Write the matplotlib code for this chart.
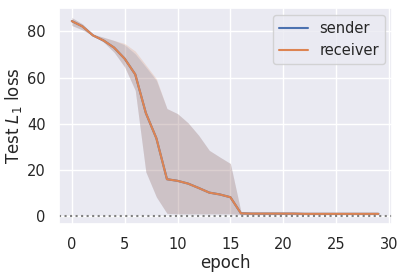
import matplotlib
matplotlib.use("Agg")
import matplotlib.pyplot as plt
import seaborn as sns
import numpy as np

epochs = list(range(30))
mean = [84.5, 82.2, 78.3, 76.1, 73.0, 68.2, 61.4, 44.7, 33.7, 16.0, 15.3, 14.1, 12.2, 10.2, 9.4, 8.2,
        1.2, 1.1, 1.1, 1.1, 1.1, 1.1, 1.0, 1.0, 1.0, 1.0, 1.0, 1.0, 1.0, 1.0]
upper = [86.0, 83.3, 78.8, 77.5, 76.1, 74.2, 70.3, 64.6, 58.8, 46.6, 44.4, 40.4, 35.0, 28.5, 25.6, 22.8,
         1.9, 1.6, 1.6, 1.6, 1.6, 1.5, 1.5, 1.5, 1.5, 1.5, 1.5, 1.5, 1.5, 1.5]
lower = [82.6, 80.7, 78.3, 75.4, 71.0, 64.6, 54.5, 19.2, 8.3, 1.2, 1.0, 1.0, 1.0, 1.0, 1.0, 1.0,
         0.8, 0.8, 0.8, 0.8, 0.8, 0.8, 0.8, 0.8, 0.8, 0.8, 0.8, 0.8, 0.8, 0.8]
r_upper = [86.0, 83.3, 78.8, 77.5, 76.1, 74.8, 71.5, 65.5, 59.5, 46.6, 44.4, 40.4, 35.0, 28.5, 25.6, 22.8,
           1.9, 1.6, 1.6, 1.6, 1.6, 1.5, 1.5, 1.5, 1.5, 1.5, 1.5, 1.5, 1.5, 1.5]

sns.set_theme(style="darkgrid")
plt.rcParams['font.family'] = ['DejaVu Sans']

fig = plt.figure(figsize=(4.03, 2.74), dpi=100)
ax = fig.add_axes([0.146, 0.182, 0.827, 0.789])

pal = sns.color_palette()
ax.plot(epochs, mean, color=pal[0], lw=1.5, label="sender")
ax.fill_between(epochs, lower, upper, color=pal[0], alpha=0.2, lw=0)
ax.plot(epochs, mean, color=pal[1], lw=1.5, label="receiver")
ax.fill_between(epochs, lower, r_upper, color=pal[1], alpha=0.2, lw=0)
ax.axhline(0, color="gray", ls=":", lw=1.5)

ax.set_xlim(-1.23, 30.3)
ax.set_ylim(-3.46, 90.2)
ax.set_xticks([0, 5, 10, 15, 20, 25, 30])
ax.set_yticks([0, 20, 40, 60, 80])
ax.tick_params(labelsize=10.5)
ax.set_xlabel("epoch", fontsize=12, labelpad=1)
ax.set_ylabel("Test $L_1$ loss", fontsize=12, labelpad=2)
ax.legend(loc="upper right", fontsize=10.5)

fig.savefig("out.png", dpi=100)
